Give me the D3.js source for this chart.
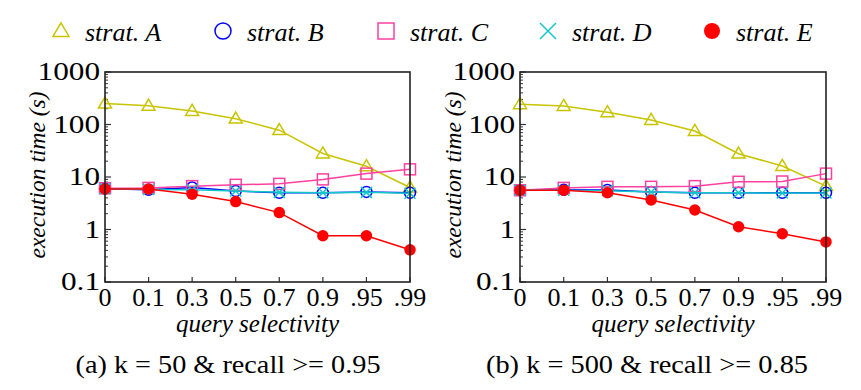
<!DOCTYPE html>
<html><head><meta charset="utf-8">
<script src="https://cdn.jsdelivr.net/npm/d3@7"></script>
<style>body{margin:0;background:#fff}svg{display:block}
text{font-family:"Liberation Serif","Times New Roman",serif;}</style>
</head><body>
<svg id="chart" width="861" height="390"></svg>
<script>
const categories = ["0","0.1","0.3","0.5","0.7","0.9",".95",".99"];
const yTicks = [0.1, 1, 10, 100, 1000];
const seriesNames = ["strat. A","strat. B","strat. C","strat. D","strat. E"];
const seriesColors = ["#c9c400","#0000ff","#ff40a0","#10c8c8","#ff0000"];
const seriesShapes = ["triangle","circle","square","cross","dot"];
// panel (a)
const a_A = [250, 228, 181, 129, 78, 28, 16, 6.3];
const a_B = [6.0, 5.7, 6.3, 5.4, 5.0, 5.0, 5.2, 5.0];
const a_C = [6.1, 6.2, 6.7, 7.1, 7.4, 9.0, 11.6, 14.0];
const a_D = [6.0, 5.8, 5.7, 5.4, 5.1, 5.0, 5.1, 4.9];
const a_E = [5.9, 5.9, 4.7, 3.4, 2.1, 0.76, 0.76, 0.41];
// panel (b)
const b_A = [243, 225, 171, 122, 75, 27.8, 16.2, 6.7];
const b_B = [5.6, 5.7, 5.65, 5.2, 5.0, 5.0, 5.0, 5.0];
const b_C = [5.6, 6.2, 6.5, 6.5, 6.7, 8.1, 8.2, 11.6];
const b_D = [5.6, 5.6, 5.5, 5.2, 5.0, 5.0, 4.95, 4.95];
const b_E = [5.6, 5.6, 5.0, 3.65, 2.35, 1.13, 0.83, 0.58];
const captions = ["(a) k = 50 & recall >= 0.95", "(b) k = 500 & recall >= 0.85"];
const xTitle = "query selectivity";
const yTitle = "execution time (s)";

const svg = d3.select("#chart");

function marker(g, shape, color, x, y, s) {
  if (shape === "triangle") {
    const h = s * 0.85;
    g.append("path").attr("d", `M${x},${y - h*0.6}L${x + s/2},${y + h*0.4}L${x - s/2},${y + h*0.4}Z`)
      .attr("fill", "none").attr("stroke", color).attr("stroke-width", 1.5);
  } else if (shape === "circle") {
    g.append("circle").attr("cx", x).attr("cy", y).attr("r", s/2)
      .attr("fill", "none").attr("stroke", color).attr("stroke-width", 1.5);
  } else if (shape === "square") {
    g.append("rect").attr("x", x - s/2).attr("y", y - s/2).attr("width", s).attr("height", s)
      .attr("fill", "none").attr("stroke", color).attr("stroke-width", 1.5);
  } else if (shape === "cross") {
    const d = s/2;
    g.append("path").attr("d", `M${x-d},${y-d}L${x+d},${y+d}M${x-d},${y+d}L${x+d},${y-d}`)
      .attr("stroke", color).attr("stroke-width", 1.5);
  } else {
    g.append("circle").attr("cx", x).attr("cy", y).attr("r", s/2).attr("fill", color);
  }
}

// legend
const legendX = [61, 223, 386, 548, 712];
seriesNames.forEach((n, i) => {
  const g = svg.append("g");
  marker(g, seriesShapes[i], seriesColors[i], legendX[i], 31, 16);
  g.append("text").attr("x", legendX[i] + 24).attr("y", 41).text(n)
    .attr("font-style", "italic").attr("font-size", 26).attr("fill", "#000");
});

const panels = [
  {x0: 105, x1: 410, data: [a_A, a_B, a_C, a_D, a_E], cap: captions[0], capX: 228, capW: 305, titleX: 45},
  {x0: 520, x1: 826, data: [b_A, b_B, b_C, b_D, b_E], cap: captions[1], capX: 647, capW: 322, titleX: 461}
];
const yTop = 72, yBot = 282;

panels.forEach(p => {
  const x = d3.scalePoint().domain(categories).range([p.x0, p.x1]).padding(0);
  const y = d3.scaleLog().domain([0.1, 1000]).range([yBot, yTop]);
  const g = svg.append("g");

  const minor = [];
  for (let e = -1; e < 3; e++) for (let m = 2; m <= 9; m++) minor.push(m * Math.pow(10, e));
  g.selectAll(".minor").data(minor).enter().append("line")
    .attr("x1", p.x0).attr("x2", p.x0 + 3).attr("y1", d => y(d)).attr("y2", d => y(d))
    .attr("stroke", "#333").attr("stroke-width", 1);
  g.selectAll(".major").data(yTicks).enter().append("line")
    .attr("x1", p.x0).attr("x2", p.x0 + 6).attr("y1", d => y(d)).attr("y2", d => y(d))
    .attr("stroke", "#333").attr("stroke-width", 1.2);
  g.selectAll(".ylab").data(yTicks).enter().append("text")
    .attr("transform", d => `translate(${p.x0 - 5},${y(d) + 8}) scale(1.25,1)`)
    .attr("text-anchor", "end")
    .attr("font-size", 25).attr("fill", "#000")
    .text(d => d3.format("~g")(d));
  g.selectAll(".xt").data(categories).enter().append("line")
    .attr("x1", d => x(d)).attr("x2", d => x(d)).attr("y1", yBot).attr("y2", yBot - 5)
    .attr("stroke", "#333").attr("stroke-width", 1.2);
  g.selectAll(".xlab").data(categories).enter().append("text")
    .attr("x", d => x(d)).attr("y", 306).attr("text-anchor", "middle")
    .attr("font-size", 26).attr("fill", "#000").text(d => d);

  p.data.forEach((vals, i) => {
    const pts = categories.map((c, j) => [x(c), y(vals[j])]);
    g.append("path").attr("d", d3.line()(pts)).attr("fill", "none")
      .attr("stroke", seriesColors[i]).attr("stroke-width", 1.5);
    const s = seriesShapes[i] === "triangle" ? 13 : seriesShapes[i] === "dot" ? 11.5 : 11;
    pts.forEach(pt => marker(g, seriesShapes[i], seriesColors[i], pt[0], pt[1], s));
  });

  g.append("rect").attr("x", p.x0).attr("y", yTop).attr("width", p.x1 - p.x0).attr("height", yBot - yTop)
    .attr("fill", "none").attr("stroke", "#222").attr("stroke-width", 1.6);

  g.append("text").attr("x", (p.x0 + p.x1) / 2).attr("y", 332).attr("text-anchor", "middle")
    .attr("font-style", "italic").attr("font-size", 25).text(xTitle);
  g.append("text").attr("transform", `translate(${p.titleX},${(yTop + yBot) / 2 - 2}) rotate(-90)`)
    .attr("text-anchor", "middle")
    .attr("font-style", "italic").attr("font-size", 23.5).text(yTitle);
  g.append("text").attr("x", p.capX).attr("y", 373).attr("text-anchor", "middle")
    .attr("font-size", 26).attr("textLength", p.capW).attr("lengthAdjust", "spacingAndGlyphs").text(p.cap);
});
</script>
</body></html>
